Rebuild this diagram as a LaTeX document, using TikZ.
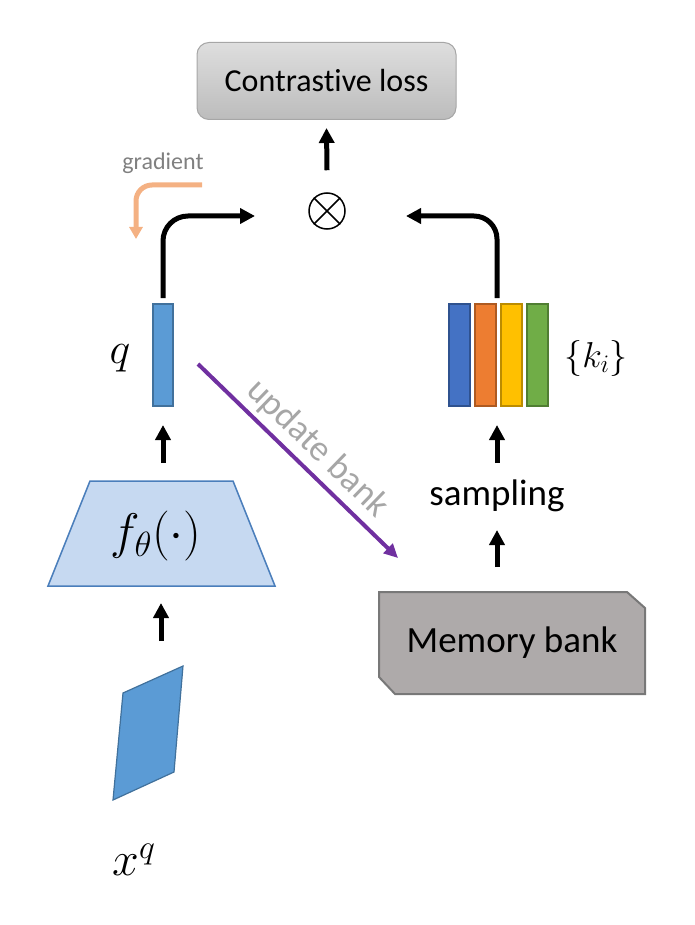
\RequirePackage{fix-cm}
\documentclass[tikz,border=0pt]{standalone}
\usepackage{fontspec}
\setmainfont{Carlito}[RawFeature={-liga;-clig;-calt;-dlig}]
\usetikzlibrary{arrows.meta}
\definecolor{qfill}{HTML}{5B9BD5}
\definecolor{qline}{HTML}{41719C}
\definecolor{kbf}{HTML}{4472C4}
\definecolor{kbl}{HTML}{2F528F}
\definecolor{kof}{HTML}{ED7D31}
\definecolor{kol}{HTML}{AE5A21}
\definecolor{kyf}{HTML}{FFC000}
\definecolor{kyl}{HTML}{BC8C00}
\definecolor{kgf}{HTML}{70AD47}
\definecolor{kgl}{HTML}{507E32}
\definecolor{trapfill}{HTML}{C6D9F1}
\definecolor{trapline}{HTML}{4A7EBB}
\definecolor{mbfill}{HTML}{AEAAAA}
\definecolor{mbline}{HTML}{787878}
\definecolor{losstop}{HTML}{DEDEDE}
\definecolor{lossbot}{HTML}{BCBCBC}
\definecolor{lossline}{HTML}{A6A6A6}
\definecolor{gradtext}{HTML}{808080}
\definecolor{gradarrow}{HTML}{F4B183}
\definecolor{upd}{HTML}{7030A0}
\definecolor{updtext}{HTML}{A6A6A6}
\begin{document}
\begin{tikzpicture}[x=1pt,y=-1pt,
  arr/.style={line width=5pt,-{Triangle[length=15pt,width=15pt]}},
  bar/.style={rectangle,minimum width=20pt,minimum height=102pt,inner sep=0pt,outer sep=0pt,line width=1.5pt},
  mathlbl/.style={inner sep=0pt,font=\fontsize{44}{52}\selectfont},
]
\useasboundingbox (0,0) rectangle (694,925);

% contrastive loss
\node[draw=lossline,line width=1pt,top color=losstop,bottom color=lossbot,
      rounded corners=12pt,minimum width=259pt,minimum height=77pt,inner sep=0pt,
      font=\fontsize{32}{38}\selectfont] (loss) at (326.5,81) {Contrastive loss};

% otimes
\node[circle,draw,line width=1.5pt,minimum size=36pt,inner sep=0pt] (ot) at (327,211) {};
\draw[line width=1.5pt] (ot.north west) -- (ot.south east);
\draw[line width=1.5pt] (ot.north east) -- (ot.south west);
\draw[arr] ([yshift=22pt]ot.north) -- ([yshift=-8pt]loss.south);

% gradient
\node[text=gradtext,font=\fontsize{24}{28}\selectfont] (gradlbl) at (163,163) {gradient};
\coordinate (g0) at (202,185);
\coordinate (g1) at (136,239);
\draw[line width=5pt,draw=gradarrow,rounded corners=16pt,
      -{Triangle[length=12pt,width=13pt]},color=gradarrow] (g0) -| (g1);

% q bar
\node[bar,fill=qfill,draw=qline] (qbar) at (163,355) {};
\node[mathlbl] (qlbl) at (120,358) {$q$};

% key bars
\node[bar,minimum width=21pt,fill=kbf,draw=kbl] (k1) at (459.5,355) {};
\node[bar,minimum width=21pt,fill=kof,draw=kol] (k2) at (485.5,355) {};
\node[bar,minimum width=21pt,fill=kyf,draw=kyl] (k3) at (511.5,355) {};
\node[bar,minimum width=21pt,fill=kgf,draw=kgl] (k4) at (537.5,355) {};
\node[inner sep=0pt,font=\fontsize{36}{42}\selectfont] (klbl) at (596,358) {$\{k_i\}$};

% curved connectors into otimes
\coordinate (tipL) at (255,216);
\coordinate (tipR) at (406,216);
\coordinate (kstart) at (497,298);
\draw[arr,rounded corners=25pt] ([yshift=6pt]qbar.north) |- (tipL);
\draw[arr,rounded corners=23pt] (kstart) |- (tipR);

% encoder trapezoid
\draw[fill=trapfill,draw=trapline,line width=1.5pt]
  (90,481) -- (233,481) -- (275,586) -- (48,586) -- cycle;
\node[mathlbl,font=\fontsize{50}{60}\selectfont] (enc) at (156,536) {$f_\theta(\cdot)$};

% arrows on the left column
\coordinate (qa0) at (163,463);
\coordinate (qa1) at (163,425);
\draw[arr] (qa0) -- (qa1);
\coordinate (xa0) at (161,641);
\coordinate (xa1) at (161,603);
\draw[arr] (xa0) -- (xa1);

% input image
\draw[fill=qfill,draw=qline,line width=1.2pt]
  (123,693) -- (183,666) -- (174,772) -- (113,800) -- cycle;
\node[mathlbl,font=\fontsize{48}{56}\selectfont] (xlbl) at (134,860) {$x^q$};

% update bank
\coordinate (u0) at (198,364);
\coordinate (u1) at (398,558);
\draw[line width=4pt,draw=upd,-{Triangle[length=14pt,width=13pt]},color=upd] (u0) --
  node[sloped,above=3pt,pos=0.52,text=updtext,inner sep=2pt,font=\fontsize{36}{42}\selectfont] (updlbl) {update bank} (u1);

% sampling
\node[font=\fontsize{37}{44}\selectfont,inner sep=0pt] (samp) at (497,496) {sampling};
\coordinate (sa0) at (497,463);
\coordinate (sa1) at (497,425);
\draw[arr] (sa0) -- (sa1);
\coordinate (ma0) at (497,567);
\coordinate (ma1) at (497,530);
\draw[arr] (ma0) -- (ma1);

% memory bank
\node[minimum width=266pt,minimum height=102pt,inner sep=0pt,outer sep=0pt] (mb) at (512,643) {};
\draw[fill=mbfill,draw=mbline,line width=2pt]
  (mb.north west) -- ([xshift=-18pt]mb.north east) -- ([yshift=-16pt]mb.north east)
  -- (mb.south east) -- ([xshift=16pt]mb.south west) -- ([yshift=17pt]mb.south west) -- cycle;
\node[font=\fontsize{37}{44}\selectfont,inner sep=0pt] (mblbl) at (mb.center) {Memory bank};
\end{tikzpicture}
\end{document}
